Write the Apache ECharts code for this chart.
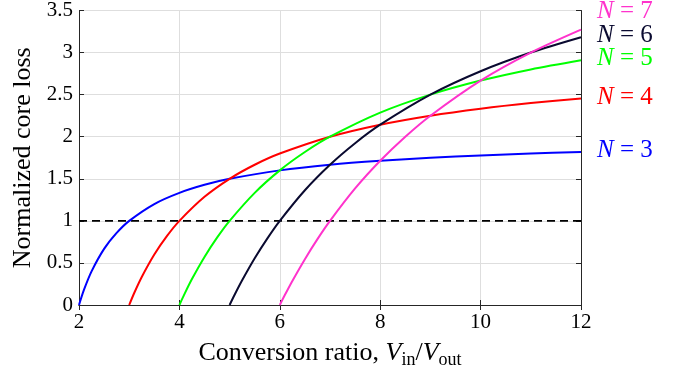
<!DOCTYPE html>
<html>
<head>
<meta charset="utf-8">
<script src="https://cdn.jsdelivr.net/npm/echarts@6/dist/echarts.min.js"></script>
<style>
  html, body { margin: 0; padding: 0; background: #fff; }
  #chart { width: 679px; height: 375px; }
</style>
</head>
<body>
<div id="chart"></div>
<script>
// values, [Vin/Vout, normalized loss]
const lossN3 = [[2,0],[2.1,0.182],[2.25,0.40],[2.5,0.667],[2.75,0.857],[3,1],[3.5,1.2],[4,1.333],[4.5,1.429],[5,1.5],[6,1.6],[7,1.667],[8,1.714],[9,1.75],[10,1.778],[11,1.8],[12,1.818]];
const lossN4 = [[3,0],[3.1,0.143],[3.25,0.333],[3.5,0.6],[3.75,0.818],[4,1],[4.5,1.286],[5,1.5],[5.5,1.667],[6,1.8],[7,2.0],[8,2.143],[9,2.25],[10,2.333],[11,2.4],[12,2.455]];
const lossN5 = [[4,0],[4.1,0.129],[4.25,0.308],[4.5,0.571],[4.75,0.8],[5,1],[5.5,1.333],[6,1.6],[6.5,1.818],[7,2.0],[8,2.286],[9,2.5],[10,2.667],[11,2.8],[12,2.909]];
const lossN6 = [[5,0],[5.1,0.122],[5.25,0.294],[5.5,0.556],[5.75,0.789],[6,1],[6.5,1.364],[7,1.667],[7.5,1.923],[8,2.143],[9,2.5],[10,2.778],[11,3.0],[12,3.182]];
const lossN7 = [[6,0],[6.1,0.118],[6.25,0.286],[6.5,0.545],[6.75,0.783],[7,1],[7.5,1.385],[8,1.714],[8.5,2.0],[9,2.25],[10,2.667],[11,3.0],[12,3.273]];
const unityLine = [[2,1],[12,1]];

const curves = [
  { n: 3, data: lossN3, color: '#0000ff', dy: -2 },
  { n: 4, data: lossN4, color: '#ff0000', dy: -1 },
  { n: 5, data: lossN5, color: '#00ff00', dy: -2 },
  { n: 6, data: lossN6, color: '#0a0a30', dy: -2 },
  { n: 7, data: lossN7, color: '#ff33cc', dy: -18 },
];

const serif = 'Liberation Serif';
const axisColor = '#262626';

const chart = echarts.init(document.getElementById('chart'));

const series = curves.map((c) => ({
  name: 'N = ' + c.n,
  type: 'line',
  data: c.data,
  smooth: 0.3,
  showSymbol: false,
  lineStyle: { color: c.color, width: 2 },
  endLabel: {
    show: true,
    formatter: '{i|N} = ' + c.n,
    color: c.color,
    fontFamily: serif,
    fontSize: 25,
    offset: [8, c.dy],
    rich: { i: { fontStyle: 'italic', fontFamily: serif, fontSize: 25, color: c.color } },
  },
  z: 3,
}));

series.push({
  type: 'line',
  data: unityLine,
  showSymbol: false,
  lineStyle: { color: '#000', width: 1.6, type: [8, 5] },
  z: 2,
});

chart.setOption({
  animation: false,
  grid: { left: 79, right: 98, top: 10, bottom: 70 },
  xAxis: [
    {
      type: 'value',
      min: 2,
      max: 12,
      interval: 2,
      name: 'Conversion ratio, {i|V}{sub|in}/{i|V}{sub|out}',
      nameLocation: 'middle',
      nameGap: 33,
      nameTextStyle: {
        fontFamily: serif,
        fontSize: 26,
        color: '#000',
        rich: {
          i: { fontStyle: 'italic', fontFamily: serif, fontSize: 26 },
          sub: { fontFamily: serif, fontSize: 18, padding: [13, 0, 0, 0] },
        },
      },
      axisLine: { lineStyle: { color: axisColor, width: 1 } },
      axisTick: { inside: true, length: 5, lineStyle: { color: axisColor } },
      axisLabel: { color: '#000', fontFamily: serif, fontSize: 21, margin: 7 },
      splitLine: { show: true, lineStyle: { color: '#dedede', width: 1 } },
    },
    {
      type: 'value',
      position: 'top',
      min: 2,
      max: 12,
      interval: 2,
      axisLine: { show: true, lineStyle: { color: axisColor, width: 1 } },
      axisTick: { inside: true, length: 5, lineStyle: { color: axisColor } },
      axisLabel: { show: false },
      splitLine: { show: false },
    },
  ],
  yAxis: [
    {
      type: 'value',
      min: 0,
      max: 3.5,
      interval: 0.5,
      name: 'Normalized core loss',
      nameLocation: 'middle',
      nameGap: 38,
      nameTextStyle: { fontFamily: serif, fontSize: 26, color: '#000' },
      axisLine: { show: true, lineStyle: { color: axisColor, width: 1 } },
      axisTick: { show: true, inside: true, length: 5, lineStyle: { color: axisColor } },
      axisLabel: { color: '#000', fontFamily: serif, fontSize: 21, margin: 6 },
      splitLine: { show: true, lineStyle: { color: '#dedede', width: 1 } },
    },
    {
      type: 'value',
      position: 'right',
      min: 0,
      max: 3.5,
      interval: 0.5,
      axisLine: { show: true, lineStyle: { color: axisColor, width: 1 } },
      axisTick: { show: true, inside: true, length: 5, lineStyle: { color: axisColor } },
      axisLabel: { show: false },
      splitLine: { show: false },
    },
  ],
  series: series,
});
</script>
</body>
</html>
